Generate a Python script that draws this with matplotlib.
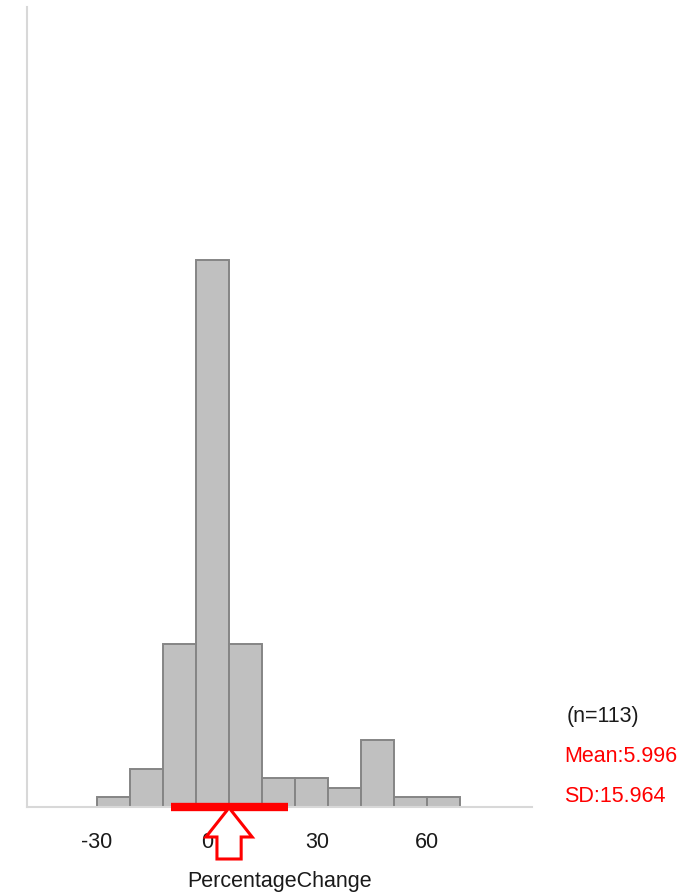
import matplotlib
matplotlib.use("Agg")
import matplotlib.pyplot as plt
from matplotlib.patches import Polygon
import matplotlib.transforms as mtransforms
import numpy as np

plt.rcParams['font.family'] = ['Liberation Sans', 'DejaVu Sans']

# Histogram of percentage change (bin edges and counts)
bin_edges = [-30, -21, -12, -3, 6, 15, 24, 33, 42, 51, 60, 69]
counts = [1, 4, 17, 57, 17, 3, 3, 2, 7, 1, 1]
n_obs = 113
mean_val = 5.996
sd_val = 15.964
x_ticks = [-30, 0, 30, 60]
x_label = "PercentageChange"

FS = 15.5

fig = plt.figure(figsize=(6.97, 8.95), dpi=100)
ax = fig.add_axes([27/697, 1 - 808/895, (532 - 27)/697, 800/895])

edges = np.array(bin_edges)
ax.bar(edges[:-1], counts, width=np.diff(edges), align='edge',
       color='#c0c0c0', edgecolor='#858585', linewidth=1.4, zorder=2)

ax.set_xlim(-49.1, 88.6)
ax.set_ylim(0, 83.3)

for side in ['top', 'right']:
    ax.spines[side].set_visible(False)
for side in ['left', 'bottom']:
    ax.spines[side].set_color('#d8d8d8')
    ax.spines[side].set_linewidth(1.5)

ax.set_yticks([])
ax.set_xticks(x_ticks)
ax.set_xticklabels([str(t) for t in x_ticks], fontsize=FS, color='#1a1a1a')
ax.tick_params(axis='x', length=0, pad=17.5)
ax.set_xlabel(x_label, fontsize=FS, color='#1a1a1a', labelpad=13)

# Mean ± SD bar along the baseline
trans = mtransforms.blended_transform_factory(ax.transData, ax.transAxes)
ax.plot([mean_val - sd_val, mean_val + sd_val], [0, 0], color='#ff0000',
        linewidth=6, solid_capstyle='butt', transform=trans, clip_on=False, zorder=3)

# Hollow arrow pointing at the mean
hw, sw = 6.3, 3.3
y_tip, y_head, y_bot = -0.001, -0.0375, -0.065
arrow_pts = [
    (mean_val, y_tip),
    (mean_val + hw, y_head),
    (mean_val + sw, y_head),
    (mean_val + sw, y_bot),
    (mean_val - sw, y_bot),
    (mean_val - sw, y_head),
    (mean_val - hw, y_head),
]
ax.add_patch(Polygon(arrow_pts, closed=True, facecolor='white', edgecolor='#ff0000',
                     linewidth=2.2, transform=trans, clip_on=False, zorder=4))

# Summary statistics
fig.text(567/697, 1 - 717/895, f"(n={n_obs})", fontsize=FS, color='#1a1a1a',
         ha='left', va='center')
fig.text(564/697, 1 - 757/895, f"Mean:{mean_val:.3f}", fontsize=FS, color='#ff0000',
         ha='left', va='center')
fig.text(564/697, 1 - 797/895, f"SD:{sd_val:.3f}", fontsize=FS, color='#ff0000',
         ha='left', va='center')

fig.savefig("out.png", dpi=100)
